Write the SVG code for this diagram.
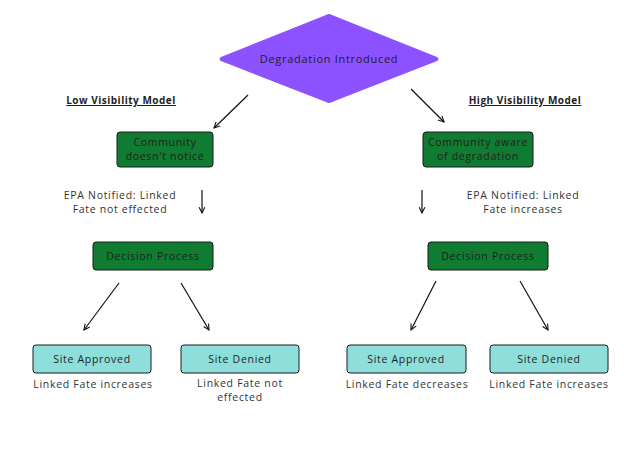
<svg xmlns="http://www.w3.org/2000/svg" width="624" height="468" viewBox="0 0 624 468">
<defs>
<style>
text{font-family:"Open Sans","Liberation Sans",sans-serif;fill:#1e1e1e;text-anchor:middle;font-size:10.5px;letter-spacing:0.7px}
.g{fill:#107c32;stroke:#1a1a1a;stroke-width:1}
.c{fill:#8edfdc;stroke:#1a1a1a;stroke-width:1}
.h{font-weight:bold;text-decoration:underline;font-size:10px;letter-spacing:0.5px}
.e{stroke:#111;stroke-width:1.2;fill:none;marker-end:url(#a)}
.l{fill:#333}
</style>
<marker id="a" viewBox="0 0 10 10" refX="9" refY="5" markerWidth="6" markerHeight="6" orient="auto-start-reverse">
<path d="M1,1 L9,5 L1,9" fill="none" stroke="#111" stroke-width="1.5"/>
</marker>
</defs>
<rect width="624" height="468" fill="#fff"/>
<g id="connectors">
<line class="e" x1="248" y1="95" x2="214" y2="128"/>
<line class="e" x1="411" y1="89" x2="444" y2="122"/>
<line class="e" x1="202" y1="190" x2="202" y2="213"/>
<line class="e" x1="422" y1="190" x2="422" y2="213"/>
<line class="e" x1="119" y1="283" x2="84" y2="330"/>
<line class="e" x1="181" y1="283" x2="209" y2="330"/>
<line class="e" x1="436" y1="281" x2="411" y2="330"/>
<line class="e" x1="520" y1="281" x2="548" y2="330"/>
</g>
<g id="degradation">
<path d="M326,15 Q329,13 332,15 L437,57 Q440,59 437,61 L332,102 Q329,104 326,102 L221,61 Q218,59 221,57 Z" fill="#8c52ff"/>
<text x="329" y="63" style="font-size:11px">Degradation Introduced</text>
</g>
<g id="low-label"><text class="h" x="121" y="104">Low Visibility Model</text></g>
<g id="high-label"><text class="h" x="525" y="104">High Visibility Model</text></g>
<g id="community-low">
<rect class="g" x="117" y="132" width="96" height="35" rx="3"/>
<text x="165" y="146">Community</text>
<text x="165" y="160">doesn't notice</text>
</g>
<g id="community-high">
<rect class="g" x="423" y="132" width="110" height="35" rx="3"/>
<text x="478" y="146">Community aware</text>
<text x="478" y="160">of degradation</text>
</g>
<g id="epa-low">
<text class="l" x="120" y="199">EPA Notified: Linked</text>
<text class="l" x="120" y="213">Fate not effected</text>
</g>
<g id="epa-high">
<text class="l" x="523" y="199">EPA Notified: Linked</text>
<text class="l" x="523" y="213">Fate increases</text>
</g>
<g id="decision-low">
<rect class="g" x="93" y="242" width="120" height="28" rx="3"/>
<text x="153" y="260">Decision Process</text>
</g>
<g id="decision-high">
<rect class="g" x="428" y="242" width="120" height="28" rx="3"/>
<text x="488" y="260">Decision Process</text>
</g>
<g id="approved-low">
<rect class="c" x="33" y="345" width="118" height="28" rx="3"/>
<text x="92" y="363">Site Approved</text>
</g>
<g id="denied-low">
<rect class="c" x="181" y="345" width="118" height="28" rx="3"/>
<text x="240" y="363">Site Denied</text>
</g>
<g id="approved-high">
<rect class="c" x="347" y="345" width="119" height="28" rx="3"/>
<text x="406" y="363">Site Approved</text>
</g>
<g id="denied-high">
<rect class="c" x="490" y="345" width="118" height="28" rx="3"/>
<text x="549" y="363">Site Denied</text>
</g>
<g id="fate-1"><text class="l" x="93" y="388">Linked Fate increases</text></g>
<g id="fate-2"><text class="l" x="240" y="387">Linked Fate not</text><text class="l" x="240" y="401">effected</text></g>
<g id="fate-3"><text class="l" x="407" y="388">Linked Fate decreases</text></g>
<g id="fate-4"><text class="l" x="549" y="388">Linked Fate increases</text></g>
</svg>
